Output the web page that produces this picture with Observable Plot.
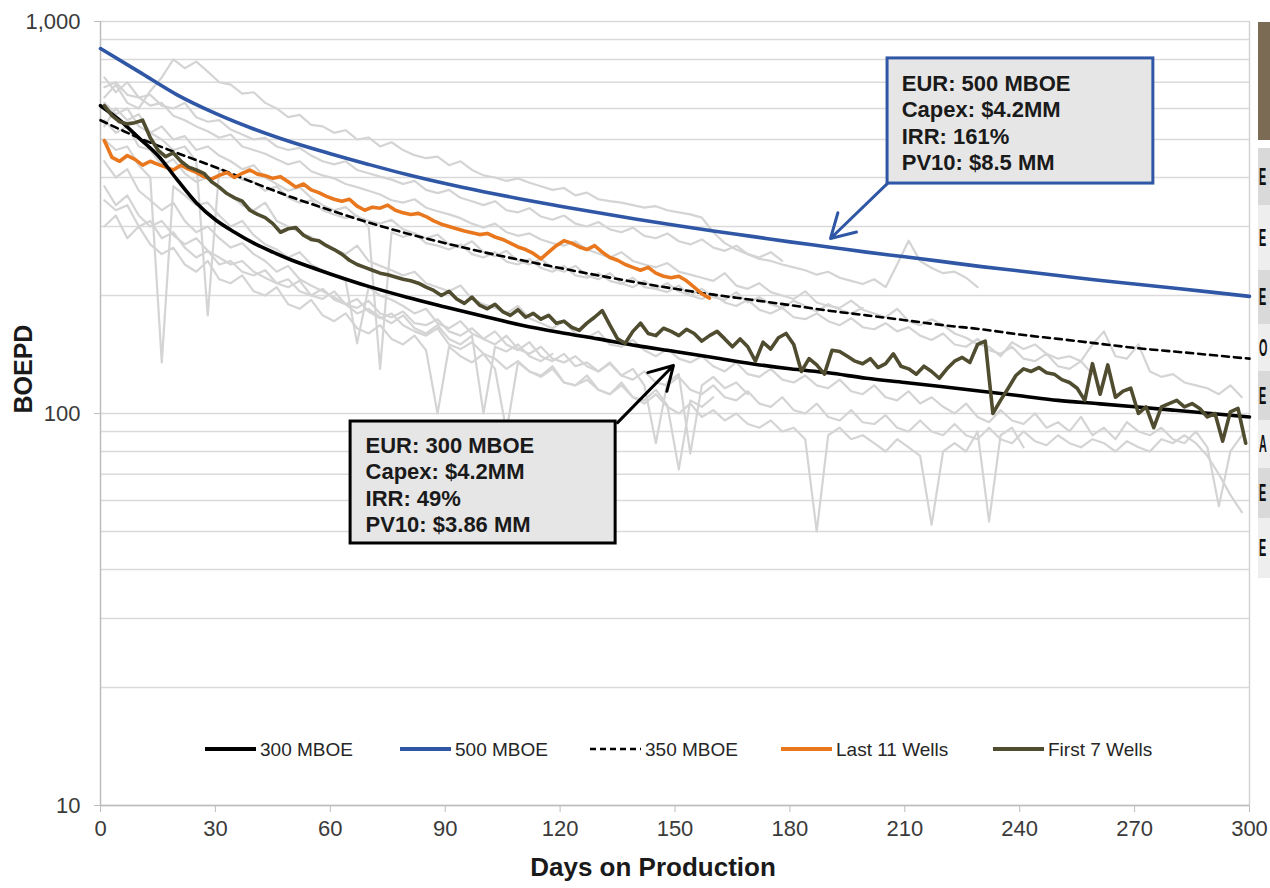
<!DOCTYPE html>
<html><head><meta charset="utf-8">
<script src="https://cdn.jsdelivr.net/npm/d3@7"></script>
<script src="https://cdn.jsdelivr.net/npm/@observablehq/plot@0.6"></script>
<style>
html,body{margin:0;padding:0;background:#fff;overflow:hidden;}
#wrap{position:relative;width:1270px;height:888px;overflow:hidden;font-family:"Liberation Sans",Arial,sans-serif;}
#side{position:absolute;left:1258px;top:0;width:12px;overflow:hidden;}
#side div{position:absolute;left:0;width:12px;font-weight:bold;font-size:24px;color:#111;line-height:1;overflow:hidden;}
#side span{display:inline-block;transform:scaleX(0.45);transform-origin:0 50%;margin-left:1px;}
</style></head><body><div id="wrap"><div id="chart"></div><div id="side"></div></div>
<script>
// ---------- data ----------
const xTicks = [0, 30, 60, 90, 120, 150, 180, 210, 240, 270, 300];
const yTicks = [10, 100, 1000];
const gridValues = [10,20,30,40,50,60,70,80,90,100,200,300,400,500,600,700,800,900,1000];

// type curves (sampled by day)
const blackDays = [0,5,10,15,20,25,30,35,40,45,50,55,60,70,80,90,100,110,120,130,140,150,160,170,180,190,200,210,220,230,240,250,260,270,280,290,300];
const mboe300 = [610,560,505,455,395,345,312,290,272,258,246,236,227,211,198,187,177,168,161,155,149,144,139,134,130,127,123,120,117,114,111,108,106,104,102,100,98];
const curveDays = [0,10,20,30,40,50,60,70,80,90,100,110,120,130,140,150,160,170,180,190,200,210,220,230,240,250,260,270,280,290,300];
const mboe500 = [853,745,650,583,532,492,460,432,407,386,368,352,338,325,313,302,292,283,274,266,258,251,244,237,231,225,219,214,209,204,199];
const mboe350 = [560,505,462,425,388,356,330,307,288,272,258,246,235,225,216,208,201,195,189,183,178,173,168,164,159,155,151,147,144,141,138];

// averages (every 2 days starting day 1)
const last11 = [497,450,440,455,445,430,440,432,425,418,430,420,412,402,396,405,412,400,410,418,
  408,404,398,402,390,378,385,372,366,358,352,348,352,338,330,336,334,340,330,325,
  322,324,318,310,304,300,296,292,289,286,288,282,278,272,266,262,256,248,258,268,
  276,272,266,262,268,258,250,246,240,236,232,236,228,224,222,224,218,210,202,197];
const first7 = [610,575,555,548,552,560,505,470,452,462,440,425,418,410,390,378,364,355,348,330,
  322,316,305,290,296,298,285,278,276,268,262,255,246,240,236,232,228,226,223,220,
  218,215,210,206,200,205,196,191,198,189,185,190,182,178,184,176,180,174,178,170,
  172,166,163,170,176,183,168,155,151,162,170,160,158,165,162,158,164,160,153,158,
  162,155,148,155,148,136,152,146,156,160,150,128,138,133,126,145,144,140,136,134,
  138,131,134,142,132,130,126,132,128,123,130,136,139,135,150,153,100,108,116,125,
  130,128,131,127,126,122,120,116,108,134,112,133,110,114,116,100,104,92,104,106,
  108,104,106,103,98,100,85,101,103,84];

// individual wells (every 3 days starting day 1)
const well01 = [640,690,620,600,665,720,800,760,790,745,700,690,655,660,620,600,570,578,545,540,
  520,528,500,506,480,492,470,456,448,452,430,440,418,405,400,392,398,388,380,372,
  376,360,366,352,348,345,340,335,338,330,326,322,316,290,272,262,255,248,245,240,
  236,232,226,230,222,218,214,220,210,240,276,245,235,228,230,222,210];
const well02 = [680,700,650,640,610,620,575,560,540,525,505,515,480,470,460,445,432,440,415,405,
  398,385,378,370,362,350,345,352,335,328,322,315,305,298,305,290,284,288,278,272,
  268,275,262,256,250,258,245,240,236,242,230,226,222,218,228,212,208,215,204,200,
  196,205,192,188,186,194,184,180,176,185,172,168,174,168,160,156,150,148,140,152,
  146,150,142,138,140,136,150,162,140,138,150,128,124,126,120,118,116,112,118,110];
const well03 = [560,520,540,480,470,430,445,410,390,400,375,360,340,330,345,310,300,290,282,270,
  262,255,268,245,238,232,225,230,215,210,205,212,196,190,186,180,188,175,170,165,
  172,160,156,162,150,148,154,145,140,146,138,135,140,132,128,135,126,124,130,122,
  120,125,118,116,122,114,112,118,110,108,114,106,110,104,100,106,98,95,102,96,
  94,100,92,95,90,98,88,92,86,95,90,88,92,86,84,90,82,58,80,88];
const well04 = [440,400,420,370,350,330,345,310,290,300,280,265,272,255,245,230,238,220,212,205,
  198,190,196,182,175,180,168,162,158,165,150,146,152,142,138,130,136,128,124,130,
  120,118,122,115,112,118,110,106,112,104,100,106,98,102,96,100,94,92,96,90,
  92,86,50,88,92,86,88,84,80,86,82,78,52,80,84,80,90,53,88,92,82];
const well05 = [500,470,480,430,400,135,380,360,340,345,320,300,310,285,270,262,250,258,240,232,
  225,218,151,210,200,195,188,180,185,170,165,172,160,155,162,150,145,152,140,136,
  142,132,135,128,134,125,130,118,84,120,126,79,118,124,116,120,112];
const well06 = [620,580,600,540,520,500,470,480,440,178,420,410,395,390,370,380,355,345,350,330,
  322,315,320,300,130,290,282,288,272,268,262,270,255,250,258,244,240,248,235,230,
  238,225,222,228,218,214,222,210,208,215,205,200,208,198,195,204,192,198,190,186,
  194,188,182,190,184,180,186];
const well07 = [540,600,560,580,520,540,500,510,470,480,455,440,420,430,400,385,370,378,355,340,
  330,336,318,310,305,312,295,288,280,286,270,265,275,258,252,260,245,240,248,235,
  230,238,225,220,228,215,210,218,208,204,212,200,196,202,192,188,195,184,180,186,
  176,174,180,172,168,175,166,164,170,162,166,158,154,160,150,148,155,145,142,148,
  138,136,142,132,130,136,126];
const well08 = [380,340,360,320,300,310,285,270,280,260,250,240,245,230,222,215,220,205,200,208,
  195,190,180,185,176,170,178,165,160,168,155,150,158,100,148,144,150,140,136,142];
const well09 = [720,660,700,640,650,610,600,620,570,555,560,530,515,500,505,480,470,476,455,440,
  432,440,418,410,402,395,385,392,372,365,372,355,348,340,348,330,326,334,318,312,
  320,305,300,308,295,290,298,284,280,288,275,270,278,265,260,268,255,250,258,245];
const well10 = [350,330,340,300,310,280,290,265,250,260,240,245,230,225,232,215,210,218,200,196,
  205,190,186,194,180,176,182,170,168,174,162,158,165,155,150,158,146,142,148,138,
  135,140,132,128,135,125,122,128,120,118,124,115,112,118,110,108,114,106,104,110,
  102,100,106,98,96,102,95,94,99,92,90,96,90,88,94,88,86,92,86,84,
  90,85,83,88,84,82,86,84,80,85,82,80,86,84,88,84,78,70,62,56];
const well11 = [300,320,280,300,270,255,265,240,230,245,220,215,225,205,200,210,190,185,195,178,
  172,180,165,160,168,155,150,158,145,100,148,140,135,142,130,90,135,128,125,132,
  120,118,125,115,112,120,110,108,115,105,72,108,104,110];

// annotations (data coordinates: days, BOEPD)
const boxes = [
  {x1: 205.5, x2: 274.9, y1: 386, y2: 805, stroke: "#2f57a5"},
  {x1: 65.3, x2: 134.5, y1: 46.6, y2: 95.4, stroke: "#000000"}
];
const boxTexts = [
  {x: 209.2, y: 742, t: "EUR: 500 MBOE\nCapex: $4.2MM\nIRR: 161%\nPV10: $8.5 MM"},
  {x: 69.2, y: 88.5, t: "EUR: 300 MBOE\nCapex: $4.2MM\nIRR: 49%\nPV10: $3.86 MM"}
];
const arrows = [
  {x1: 205.7, y1: 388, x2: 190.6, y2: 279.5, stroke: "#2f57a5"},
  {x1: 135.0, y1: 94.8, x2: 149.6, y2: 132.6, stroke: "#000000"}
];

// legend
const legendLabels = ["300 MBOE", "500 MBOE", "350 MBOE", "Last 11 Wells", "First 7 Wells"];
const legendColors = ["#000000", "#2f57a5", "#000000", "#e8771e", "#4f4c30"];
const legendDash = [null, null, "6,4", null, null];

// cropped side table
const sideLetters = ["E", "E", "E", "O", "E", "A", "E", "E"];

// ---------- build rows ----------
const fromPairs = (days, vals, s) => vals.map((v, i) => ({day: days[i], v, s}));
const fromStep = (vals, start, step, s) => vals.map((v, i) => ({day: start + i * step, v, s}));
const wells = [well01, well02, well03, well04, well05, well06, well07, well08, well09, well10, well11];
const grayRows = wells.flatMap((w, k) => fromStep(w, 1, 3, "w" + k));
const r300 = fromPairs(blackDays, mboe300, "300");
const r500 = fromPairs(curveDays, mboe500, "500");
const r350 = fromPairs(curveDays, mboe350, "350");
const rLast = fromStep(last11, 1, 2, "last");
const rFirst = fromStep(first7, 1, 2, "first");

const FONT = "Liberation Sans, Arial, sans-serif";

const chart = Plot.plot({
  width: 1270, height: 888,
  marginLeft: 100, marginRight: 21, marginTop: 21, marginBottom: 83,
  style: {fontFamily: FONT, background: "#fff", color: "#3a3a3a"},
  x: {domain: [0, 300]},
  y: {type: "log", domain: [10, 1000]},
  marks: [
    Plot.ruleY(gridValues, {stroke: "#dadada", strokeWidth: 1.5}),
    Plot.ruleX([300], {stroke: "#d4d4d4", strokeWidth: 1.5}),
    Plot.ruleX([0], {stroke: "#bdbdbd", strokeWidth: 1.5}),
    Plot.ruleY([10], {stroke: "#bdbdbd", strokeWidth: 1.5}),
    Plot.axisX({ticks: xTicks, tickSize: 7, tickPadding: 8, fontSize: 22, stroke: "#bdbdbd", fill: "#3a3a3a", label: null}),
    Plot.axisY({ticks: yTicks, tickFormat: d3.format(","), tickSize: 6, tickPadding: 14, fontSize: 22, stroke: "#bdbdbd", fill: "#3a3a3a", label: null}),
    Plot.text(["BOEPD"], {frameAnchor: "left", dx: -77, rotate: -90, fontSize: 25, fontWeight: "bold", fill: "#1a1a1a"}),
    Plot.text(["Days on Production"], {frameAnchor: "bottom", dy: 70, dx: -22, fontSize: 26, fontWeight: "bold", fill: "#1a1a1a"}),
    Plot.line(grayRows, {x: "day", y: "v", z: "s", stroke: "#d4d4d4", strokeWidth: 2.2}),
    Plot.line(r350, {x: "day", y: "v", stroke: "#000", strokeWidth: 2.6, strokeDasharray: "7,5", curve: "monotone-x"}),
    Plot.line(r500, {x: "day", y: "v", stroke: "#2f57a5", strokeWidth: 3.6, curve: "monotone-x"}),
    Plot.line(rLast, {x: "day", y: "v", stroke: "#e8771e", strokeWidth: 3.6}),
    Plot.line(r300, {x: "day", y: "v", stroke: "#000", strokeWidth: 3.6, curve: "monotone-x"}),
    Plot.line(rFirst, {x: "day", y: "v", stroke: "#4f4c30", strokeWidth: 3.6}),
    Plot.arrow(arrows, {x1: "x1", y1: "y1", x2: "x2", y2: "y2", stroke: "stroke", strokeWidth: 3, headLength: 16}),
    Plot.rect(boxes, {x1: "x1", x2: "x2", y1: "y1", y2: "y2", fill: "#e6e6e6", stroke: "stroke", strokeWidth: 3}),
    Plot.text(boxTexts, {x: "x", y: "y", text: "t", textAnchor: "start", lineAnchor: "top", lineHeight: 1.2, fontSize: 22, fontWeight: "bold", fill: "#1a1a1a"})
  ]
});
document.getElementById("chart").appendChild(chart);

// legend (pixel layout inside the plot frame)
const legendX = [205, 400, 590, 781, 993];
const lg = d3.select(chart).append("g").attr("font-family", FONT).attr("text-anchor", "start");
legendLabels.forEach((lab, i) => {
  const x0 = legendX[i];
  const ln = lg.append("line").attr("x1", x0).attr("x2", x0 + 51).attr("y1", 749).attr("y2", 749)
    .attr("stroke", legendColors[i]).attr("stroke-width", legendDash[i] ? 2.6 : 4);
  if (legendDash[i]) ln.attr("stroke-dasharray", legendDash[i]);
  lg.append("text").attr("x", x0 + 55).attr("y", 749).attr("dy", "0.35em")
    .attr("text-anchor", "start").attr("font-size", 19).attr("fill", "#262626").text(lab);
});

// cropped side table at the right edge
const side = document.getElementById("side");
side.style.height = "888px";
const head = document.createElement("div");
head.style.cssText = "top:22px;height:118px;background:#7b6b55;";
side.appendChild(head);
const bounds = [148, 205, 270, 324, 371, 420, 468, 518, 578];
sideLetters.forEach((L, i) => {
  const d = document.createElement("div");
  const h = bounds[i + 1] - bounds[i];
  d.style.top = bounds[i] + "px";
  d.style.height = h + "px";
  d.style.lineHeight = h + "px";
  d.style.background = i % 2 === 0 ? "#d9d9d9" : "#eeeeee";
  const sp = document.createElement("span");
  sp.textContent = L;
  d.appendChild(sp);
  side.appendChild(d);
});
</script>
</body></html>
